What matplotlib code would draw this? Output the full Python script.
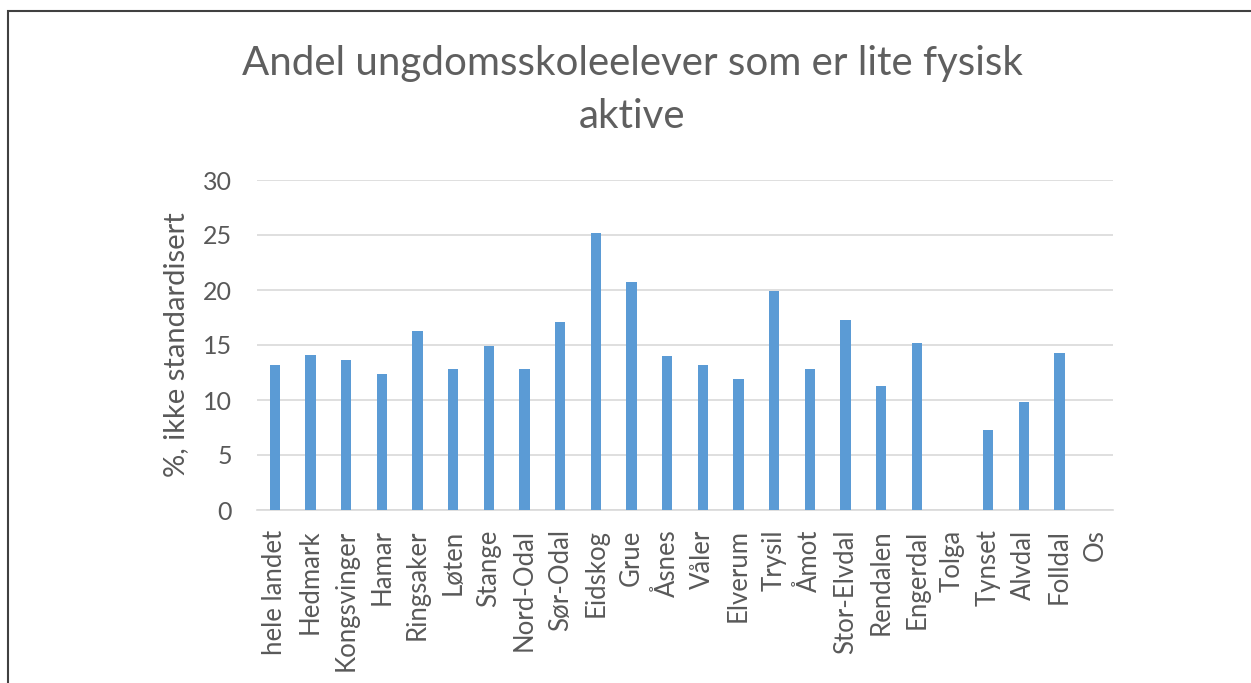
import matplotlib
matplotlib.use("Agg")
import matplotlib.pyplot as plt
from matplotlib.patches import Rectangle

# Data
kommuner = ['hele landet', 'Hedmark', 'Kongsvinger', 'Hamar', 'Ringsaker', 'Løten',
            'Stange', 'Nord-Odal', 'Sør-Odal', 'Eidskog', 'Grue', 'Åsnes', 'Våler',
            'Elverum', 'Trysil', 'Åmot', 'Stor-Elvdal', 'Rendalen', 'Engerdal',
            'Tolga', 'Tynset', 'Alvdal', 'Folldal', 'Os']
andel = [13.2, 14.1, 13.6, 12.4, 16.3, 12.8, 14.9, 12.8, 17.1, 25.2, 20.7, 14.0, 13.2,
         11.9, 19.9, 12.8, 17.3, 11.3, 15.2, 0, 7.3, 9.8, 14.3, 0]
yticks = [0, 5, 10, 15, 20, 25, 30]

plt.rcParams['font.family'] = ['Lato', 'DejaVu Sans']
grey = '#595959'
W, H = 1251, 683

fig = plt.figure(figsize=(W / 100, H / 100), dpi=100)
ax = fig.add_axes([257 / W, (H - 510) / H, (1113 - 257) / W, 330 / H])

x = list(range(len(kommuner)))
ax.bar(x, andel, width=0.29, color='#5B9BD5', zorder=3)

ax.set_xlim(-0.5, len(kommuner) - 0.5)
ax.set_ylim(0, 30)
ax.set_yticks(yticks)
ax.set_xticks(x)
ax.set_xticklabels(kommuner, rotation=90, fontsize=18.5, color=grey)
ax.tick_params(axis='y', labelsize=18, colors=grey, length=0, pad=18)
ax.tick_params(axis='x', length=0, pad=14)
ax.yaxis.grid(True, color='#D9D9D9', linewidth=1.2, zorder=0)
for s in ['top', 'right', 'left']:
    ax.spines[s].set_visible(False)
ax.spines['bottom'].set_color('#D9D9D9')
ax.spines['bottom'].set_linewidth(1.2)
ax.set_ylabel('%, ikke standardisert', fontsize=21, color=grey, labelpad=10)

fig.text(632 / W, 1 - 90 / H, 'Andel ungdomsskoleelever som er lite fysisk\naktive',
         ha='center', va='center', fontsize=29, color='#5f5f5f', linespacing=1.55)

# frame of the original screenshot
fig.patches.append(Rectangle((8 / W, -0.1), 1.2, 1 - 11 / H + 0.1, transform=fig.transFigure,
                             fill=False, edgecolor='#404040', linewidth=1.5))

fig.savefig('out.png', dpi=100)
